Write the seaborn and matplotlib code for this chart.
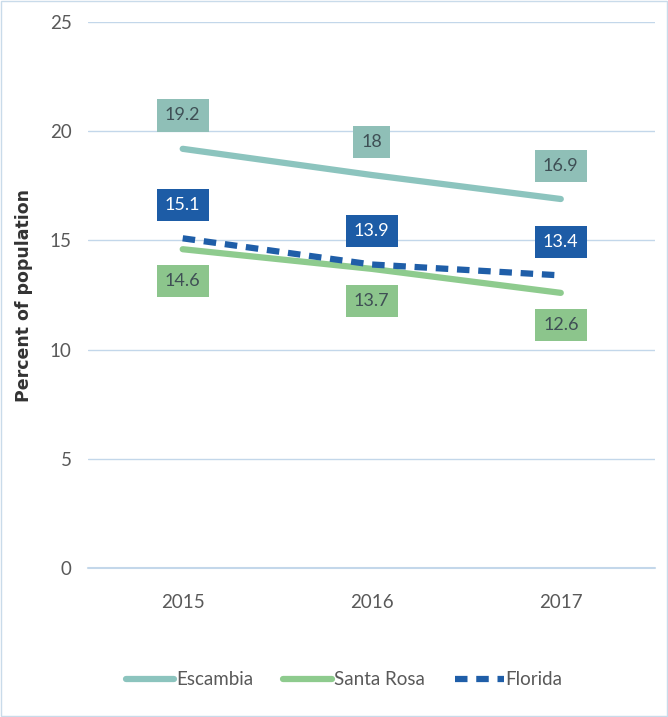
import pandas as pd
import numpy as np
import matplotlib
matplotlib.use("Agg")
import matplotlib.pyplot as plt
import seaborn as sns
from matplotlib.lines import Line2D

# Data
years = [2015, 2016, 2017]
escambia = [19.2, 18, 16.9]
santa_rosa = [14.6, 13.7, 12.6]
florida = [15.1, 13.9, 13.4]
series_names = ["Escambia", "Santa Rosa", "Florida"]
y_ticks = [0, 5, 10, 15, 20, 25]

colors = {"Escambia": "#8cc4be", "Santa Rosa": "#8ecb8e", "Florida": "#1f5ea8"}
box_colors = {"Escambia": "#8fbfb7", "Santa Rosa": "#8cc58c", "Florida": "#1d5ca6"}
text_colors = {"Escambia": "#3f4f55", "Santa Rosa": "#3f4f55", "Florida": "white"}
offsets = {"Escambia": 24, "Santa Rosa": -23, "Florida": 24}

df = pd.DataFrame({
    "Year": years * 3,
    "Value": escambia + santa_rosa + florida,
    "Area": [n for n in series_names for _ in years],
})

sns.set_style("white")
plt.rcParams['font.family'] = ['Lato', 'DejaVu Sans']

fig = plt.figure(figsize=(6.68, 7.17), dpi=100)
ax = fig.add_axes([0.132, 0.208, 0.849, 0.761])

sns.lineplot(data=df, x="Year", y="Value", hue="Area", style="Area",
             palette=colors, dashes={"Escambia": "", "Santa Rosa": "", "Florida": (2.0, 1.4)},
             linewidth=4.5, ax=ax, legend=False)

# value boxes
for name, vals in zip(series_names, [escambia, santa_rosa, florida]):
    for yr, v in zip(years, vals):
        ax.annotate(f"{v:g}", (yr, v), xytext=(0, offsets[name]), textcoords="offset points",
                    ha="center", va="center", fontsize=13, color=text_colors[name],
                    bbox=dict(boxstyle="square,pad=0.45", fc=box_colors[name], ec="none"))

ax.set_xlim(2014.5, 2017.5)
ax.set_ylim(0, 25)
ax.set_xticks(years)
ax.set_xticklabels([str(y) for y in years])
ax.set_yticks(y_ticks)
ax.grid(axis="y", color="#c3d7ea", linewidth=1)
ax.axhline(0, color="#c3d7ea", linewidth=1.5, clip_on=False, zorder=0)
ax.set_axisbelow(True)
for s in ax.spines.values():
    s.set_visible(False)
ax.tick_params(axis="both", length=0, labelsize=13.5, labelcolor="#595959")
ax.tick_params(axis="y", pad=12)
ax.tick_params(axis="x", pad=19)
ax.set_xlabel("")
ax.set_ylabel("Percent of population", fontsize=12.5, fontweight="bold", color="#333333",
              family=["DejaVu Sans"], labelpad=12)

handles = [Line2D([], [], color=colors["Escambia"], lw=4.5),
           Line2D([], [], color=colors["Santa Rosa"], lw=4.5),
           Line2D([], [], color=colors["Florida"], lw=4.5, dashes=(2.0, 1.4))]
fig.legend(handles, series_names, loc="center", bbox_to_anchor=(0.515, 0.052), ncol=3,
           frameon=False, fontsize=13.5, handlelength=2.6, handletextpad=0.1, columnspacing=1.6,
           labelcolor="#595959")

# thin frame around figure
fig.patches.append(plt.Rectangle((0.002, 0.002), 0.996, 0.996, transform=fig.transFigure,
                                 fill=False, ec="#c9dbea", lw=1))

plt.savefig("out.png", dpi=100)
